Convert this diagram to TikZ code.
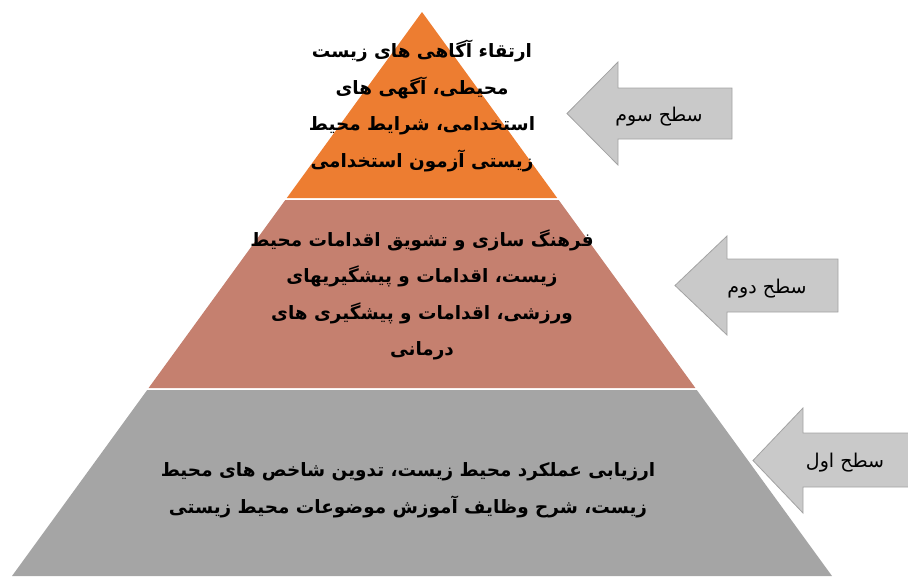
\documentclass[tikz,border=0pt]{standalone}
\usepackage{fontspec}
\newfontfamily\arabicfont[Script=Arabic]{DejaVu Sans}
\TeXXeTstate=1
\definecolor{lvlthree}{HTML}{ED7D31}
\definecolor{lvltwo}{HTML}{C5806F}
\definecolor{lvlone}{HTML}{A5A5A5}
\definecolor{arrowfill}{HTML}{C9C9C9}
\definecolor{arrowedge}{HTML}{A3A3A3}

\begin{document}
\begin{tikzpicture}[x=1pt, y=-1pt,
  txt/.style={align=center, inner sep=0pt, font={\arabicfont\bfseries\fontsize{18.4}{36.5}\selectfont}},
  lvlarrow/.style={fill=arrowfill, draw=arrowedge, line width=0.8pt},
  lbl/.style={inner sep=0pt, font={\arabicfont\fontsize{19}{22}\selectfont}}]

\useasboundingbox (0,0) rectangle (908,576);

% pyramid layers
\fill[lvlthree] (422,12) -- (286.8,198) -- (557.2,198) -- cycle;
\fill[lvltwo] (285.3,200) -- (558.7,200) -- (695.4,388) -- (148.6,388) -- cycle;
\fill[lvlone] (147.2,390) -- (696.8,390) -- (832,576) -- (12,576) -- cycle;

% level texts
\node (t3) [txt] at (422,106) {\beginR ارتقاء آگاهی های  زیست\endR\\
  \beginR محیطی، آگهی های\endR\\
  \beginR استخدامی، شرایط محیط\endR\\
  \beginR زیستی آزمون استخدامی\endR};
\node (t2) [txt] at (422,295) {\beginR فرهنگ سازی و تشویق اقدامات محیط\endR\\
  \beginR زیست، اقدامات و پیشگیریهای\endR\\
  \beginR ورزشی، اقدامات و پیشگیری های\endR\\
  \beginR درمانی\endR};
\node (t1) [txt] at (408,490) {\beginR ارزیابی عملکرد محیط زیست، تدوین شاخص های محیط\endR\\
  \beginR زیست، شرح وظایف آموزش موضوعات محیط زیستی\endR};

% arrows
\draw[lvlarrow] (567,113.5) -- (618,62) -- (618,88) -- (732,88) -- (732,139) -- (618,139) -- (618,165) -- cycle;
\draw[lvlarrow] (675,285.5) -- (727,236) -- (727,259) -- (838,259) -- (838,312) -- (727,312) -- (727,335) -- cycle;
\draw[lvlarrow] (753,460.5) -- (803,408) -- (803,433) -- (915,433) -- (915,487) -- (803,487) -- (803,513) -- cycle;

\node (a3) [lbl] at (659,117) {\beginR سطح سوم\endR};
\node (a2) [lbl] at (767,289) {\beginR سطح دوم\endR};
\node (a1) [lbl] at (845,463) {\beginR سطح اول\endR};
\end{tikzpicture}
\end{document}
